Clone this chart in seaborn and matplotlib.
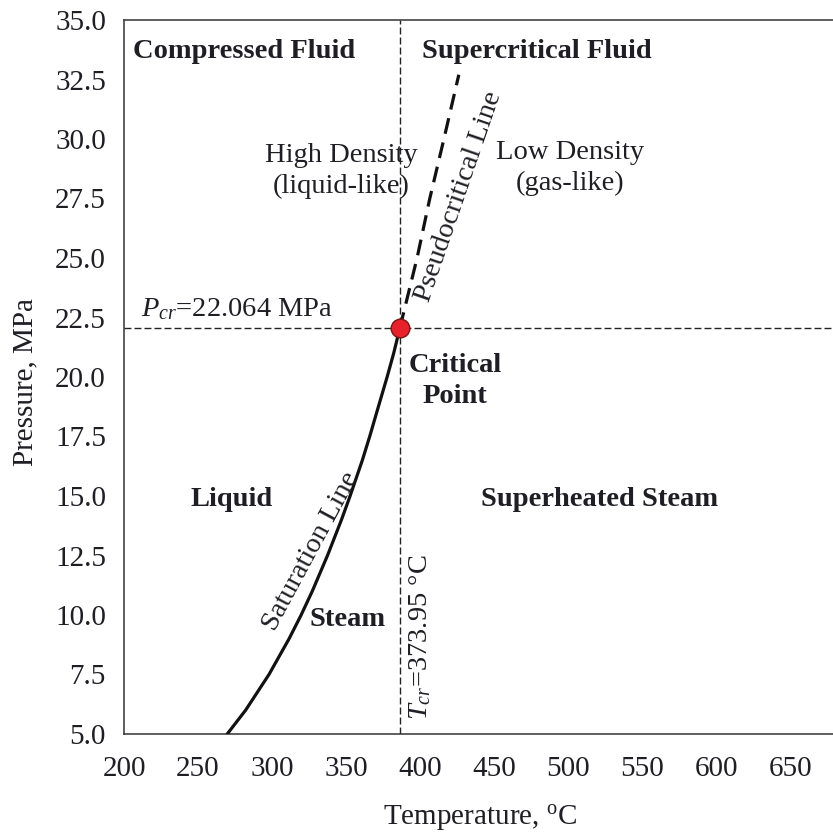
import matplotlib
matplotlib.use("Agg")
import matplotlib.pyplot as plt
import seaborn as sns
import pandas as pd

# ---------------- data ----------------
sat_T = [263.9, 275.6, 290.5, 303.3, 311.0, 318.1, 327.8, 336.7, 342.2,
         350.0, 354.7, 360.0, 365.8, 370.0, 373.95]
sat_P = [5.0, 6.0, 7.5, 9.0, 10.0, 11.0, 12.5, 14.0, 15.0,
         16.5, 17.5, 18.7, 20.0, 21.0, 22.064]

pseudo_T = [373.95, 384.9, 393.0, 402.0, 411.5]
pseudo_P = [22.064, 25.0, 27.5, 30.0, 32.7]

crit_T = 373.95
crit_P = 22.064

x_tick_marks = [250, 300, 350, 400, 450, 500, 550, 600]
x_tick_values = [200, 250, 300, 350, 400, 450, 500, 550, 600, 650]
x_tick_labels = ["200", "250", "300", "350", "400", "450", "500", "550", "600", "650"]
y_ticks = [5.0, 7.5, 10.0, 12.5, 15.0, 17.5, 20.0, 22.5, 25.0, 27.5, 30.0, 32.5, 35.0]
y_tick_labels = ["5.0", "7.5", "10.0", "12.5", "15.0", "17.5", "20.0",
                 "22.5", "25.0", "27.5", "30.0", "32.5", "35.0"]

# ---------------- style ----------------
sns.set_theme(style="white")
plt.rcParams["font.family"] = ["Liberation Serif", "DejaVu Serif"]
plt.rcParams["mathtext.fontset"] = "custom"
plt.rcParams["mathtext.rm"] = "Liberation Serif"
plt.rcParams["mathtext.it"] = "Liberation Serif:italic"
plt.rcParams["mathtext.bf"] = "Liberation Serif:bold"

FS = 21
FT = 20.5
TXT = "#1e1e24"
SPINE = "#333333"

fig = plt.figure(figsize=(8.33, 8.34), dpi=100)
ax = fig.add_axes([124 / 833, 1 - 734 / 834, 709 / 833, 714 / 834])

sat_df = pd.DataFrame({"T": sat_T, "P": sat_P})
pc_df = pd.DataFrame({"T": pseudo_T, "P": pseudo_P})

# reference lines
ax.axvline(crit_T, color="#222222", lw=1.0, linestyle=(0, (5, 2.2)), zorder=1)
ax.axhline(crit_P, color="#222222", lw=1.0, linestyle=(0, (5, 2.2)), zorder=1)

sns.lineplot(data=sat_df, x="T", y="P", sort=False, estimator=None,
             color="#111111", lw=2.3, ax=ax, zorder=3)
sns.lineplot(data=pc_df, x="T", y="P", sort=False, estimator=None,
             color="#111111", lw=2.3, ax=ax, zorder=3)
ax.lines[-1].set_linestyle((0, (5, 2.8)))

sns.scatterplot(x=[crit_T], y=[crit_P], s=180, color="#e8202a",
                edgecolor="#7a1515", linewidth=1.0, ax=ax, zorder=5)

# ---------------- axes ----------------
ax.set_xlim(200, 650)
ax.set_ylim(5, 35)

ax.set_xticks(x_tick_marks)
ax.set_xticklabels([])
# labels laid out with the reference's compressed spacing
label_pos = [198.1 + 0.9437 * (v - 200) for v in x_tick_values]
ax.set_xticks(label_pos, minor=True)
ax.set_xticklabels(x_tick_labels, minor=True)

ax.set_yticks(y_ticks)
ax.set_yticklabels(y_tick_labels)

ax.tick_params(axis="both", which="major", direction="in", length=6.5,
               width=1.1, color=SPINE, labelsize=FS, labelcolor=TXT)
ax.tick_params(axis="y", which="major", pad=13)
ax.tick_params(axis="x", which="minor", length=0, pad=16,
               labelsize=FS, labelcolor=TXT)

for s in ["left", "bottom", "top"]:
    ax.spines[s].set_visible(True)
    ax.spines[s].set_color(SPINE)
    ax.spines[s].set_linewidth(1.1)
ax.spines["right"].set_visible(False)

ax.set_xlabel("Temperature, $^{\\mathrm{o}}$C", fontsize=FS, color=TXT)
ax.set_ylabel("Pressure, MPa", fontsize=FS, color=TXT)
ax.xaxis.set_label_coords(0.502, -0.097)
ax.yaxis.set_label_coords(-0.121, 0.493)

# ---------------- annotations ----------------
bold = dict(fontsize=FT, fontweight="bold", color=TXT, ha="center", va="center")
reg = dict(fontsize=FT, color=TXT, ha="center", va="center")

ax.text(274.9, 33.66, "Compressed Fluid", **bold)
ax.text(461.3, 33.66, "Supercritical Fluid", **bold)
ax.text(336.5, 28.65, "High Density\n(liquid-like)", linespacing=1.3, **reg)
ax.text(482.5, 28.78, "Low Density\n(gas-like)", linespacing=1.3, **reg)
ax.text(409.2, 19.83, "Critical\nPoint", linespacing=1.3, **bold)
ax.text(266.4, 14.87, "Liquid", **bold)
ax.text(501.4, 14.87, "Superheated Steam", **bold)
ax.text(340.3, 9.79, "Steam", **bold)

ax.text(209.0, 22.86, "$P_{cr}$=22.064 MPa", fontsize=FT, color=TXT,
        ha="left", va="center")
ax.text(387.0, 9.08, "$T_{cr}$=373.95 °C", rotation=90, **reg)
ax.text(317.5, 12.69, "Saturation Line", rotation=61.7,
        rotation_mode="anchor", **reg)
ax.text(411.6, 27.56, "Pseudocritical Line", rotation=71,
        rotation_mode="anchor", **reg)

fig.savefig("out.png", dpi=100)
